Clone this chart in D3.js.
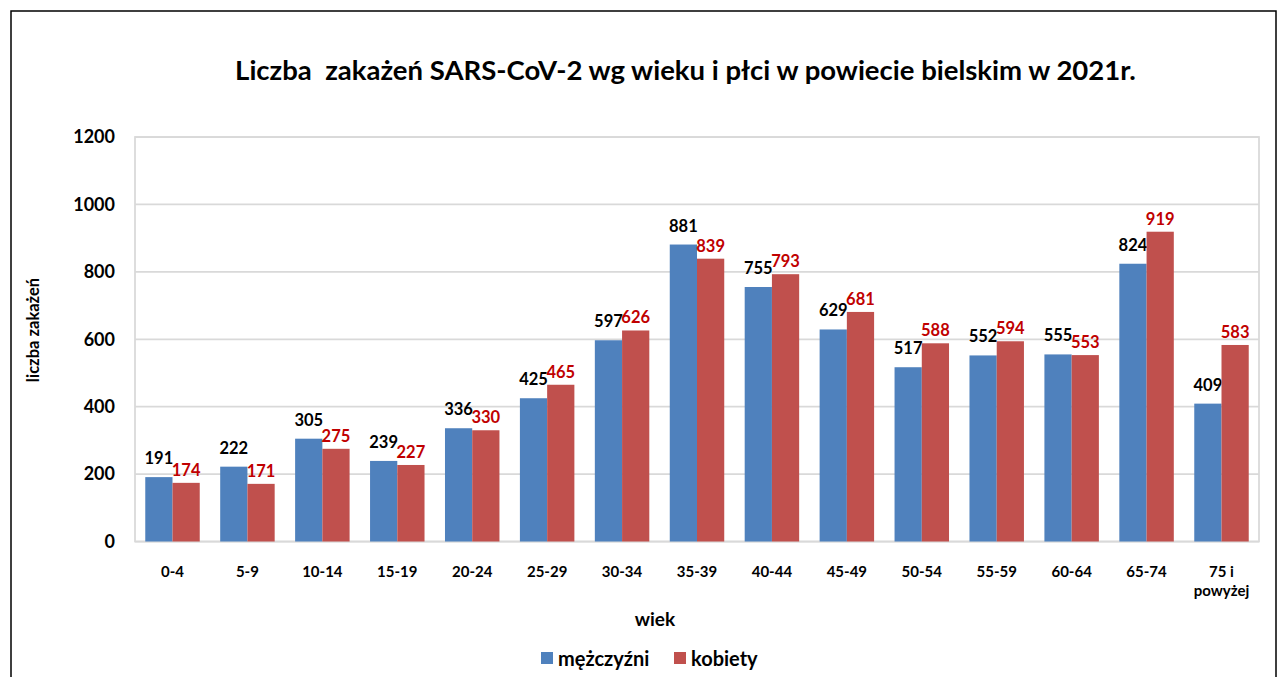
<!DOCTYPE html>
<html><head><meta charset="utf-8">
<script src="https://cdn.jsdelivr.net/npm/d3@7"></script>
<style>body{margin:0;background:#fff;}svg{display:block;font-family:Lato,"Open Sans",sans-serif;}</style>
</head><body><svg id="c" width="1283" height="677"></svg>
<script>
const categories = ["0-4","5-9","10-14","15-19","20-24","25-29","30-34","35-39","40-44","45-49","50-54","55-59","60-64","65-74","75 i\npowyżej"];
const men   = [191,222,305,239,336,425,597,881,755,629,517,552,555,824,409];
const women = [174,171,275,227,330,465,626,839,793,681,588,594,553,919,583];
const yTicks = [0,200,400,600,800,1000,1200];
const seriesNames = ["mężczyźni","kobiety"];
const colors = ["#4f81bd","#c0504d"];
const labelColors = ["#000000","#c00000"];

const svg = d3.select("#c");
// frame
svg.append("path").attr("d","M11,677 V11 H1276 V677").attr("fill","none").attr("stroke","#000").attr("stroke-width",1.5);

const L=135,R=1259,T=137,B=541.5;
const x = d3.scaleBand().domain(categories).range([L,R]).paddingInner(0.273).paddingOuter(0.137);
const xs = d3.scaleBand().domain([0,1]).range([0,x.bandwidth()]);
const y = d3.scaleLinear().domain([0,1200]).range([B,T]);

// gridlines
svg.append("g").selectAll("line").data(yTicks).join("line")
 .attr("x1",L).attr("x2",R).attr("y1",d=>y(d)).attr("y2",d=>y(d))
 .attr("stroke","#d9d9d9").attr("stroke-width",1.75);
svg.append("rect").attr("x",L).attr("y",T).attr("width",R-L).attr("height",B-T)
 .attr("fill","none").attr("stroke","#d9d9d9").attr("stroke-width",1.75);

// y axis labels
const yAxis = d3.axisLeft(y).tickValues(yTicks).tickFormat(d3.format("d")).tickSize(0).tickPadding(20);
const gy = svg.append("g").attr("transform",`translate(${L},0)`).call(yAxis);
gy.select(".domain").remove();
gy.selectAll("text").attr("font-size",18).attr("font-weight","bold").attr("fill","#000").attr("font-family","Lato,sans-serif");

// bars
const series=[men,women];
series.forEach((vals,si)=>{
  const g=svg.append("g");
  g.selectAll("rect").data(vals).join("rect")
   .attr("x",(d,i)=>x(categories[i])+xs(si))
   .attr("width",xs.bandwidth())
   .attr("y",d=>y(d)).attr("height",d=>B-y(d))
   .attr("fill",colors[si]);
  g.selectAll("text").data(vals).join("text")
   .attr("x",(d,i)=>x(categories[i])+xs(si)+xs.bandwidth()/2)
   .attr("y",d=>y(d)-(si===0?13:7))
   .attr("text-anchor","middle").attr("font-size",16.5).attr("font-weight","bold")
   .attr("fill",labelColors[si]).text(d=>d);
});

// x labels
const gx = svg.append("g");
categories.forEach(c=>{
  const t=gx.append("text").attr("x",x(c)+x.bandwidth()/2).attr("y",577)
   .attr("text-anchor","middle").attr("font-size",15).attr("font-weight","bold").attr("fill","#000");
  c.split("\n").forEach((ln,i)=>t.append("tspan").attr("x",x(c)+x.bandwidth()/2).attr("dy",i?19:0).text(ln));
});

// titles
svg.append("text").attr("x",685.5).attr("y",80).attr("text-anchor","middle")
 .attr("font-size",27.5).attr("font-weight","bold").attr("xml:space","preserve")
 .text("Liczba  zakażeń SARS-CoV-2 wg wieku i płci w powiecie bielskim w 2021r.");
svg.append("text").attr("x",655).attr("y",626).attr("text-anchor","middle")
 .attr("font-size",19).attr("font-weight","bold").text("wiek");
svg.append("text").attr("transform","translate(39,330) rotate(-90)").attr("text-anchor","middle")
 .attr("font-size",16.5).attr("font-weight","bold").text("liczba zakażeń");

// legend
const lg=svg.append("g");
const lx=[541,674];
seriesNames.forEach((n,i)=>{
  lg.append("rect").attr("x",lx[i]).attr("y",652).attr("width",12).attr("height",12).attr("fill",colors[i]);
  lg.append("text").attr("x",lx[i]+17).attr("y",666).attr("font-size",20).attr("font-weight","bold").text(n);
});
</script></body></html>
